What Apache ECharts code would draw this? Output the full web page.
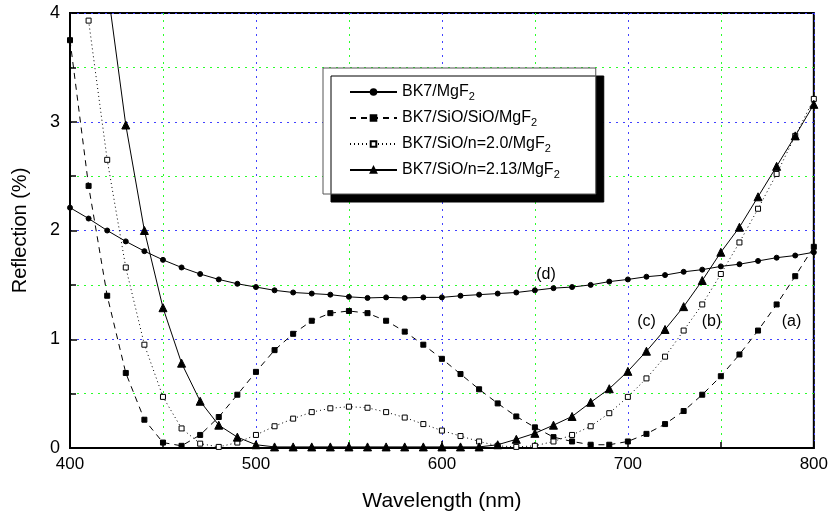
<!DOCTYPE html>
<html>
<head>
<meta charset="UTF-8">
<title>Reflection vs wavelength</title>
<script src="https://cdn.jsdelivr.net/npm/echarts@6/dist/echarts.min.js"></script>
<style>
  body { margin: 0; background: white; }
  #chart { width: 831px; height: 519px; }
</style>
</head>
<body>
<div id="chart"></div>
<script>
// wavelength, nm (every 10 nm)
var wavelengths = [400,410,420,430,440,450,460,470,480,490,500,510,520,530,540,550,560,570,580,590,
                   600,610,620,630,640,650,660,670,680,690,700,710,720,730,740,750,760,770,780,790,800];

// (d) BK7/MgF2
var bk7MgF2 = [2.21,2.11,2.00,1.90,1.81,1.73,1.66,1.60,1.55,1.51,1.48,1.45,1.43,1.42,1.41,1.39,1.38,1.385,1.38,1.385,
               1.385,1.40,1.41,1.42,1.43,1.45,1.47,1.48,1.50,1.53,1.55,1.575,1.59,1.62,1.64,1.67,1.69,1.72,1.75,1.77,1.80];
// (a) BK7/SiO/SiO/MgF2
var bk7SiOSiO = [3.75,2.41,1.40,0.69,0.26,0.05,0.02,0.12,0.285,0.49,0.70,0.90,1.05,1.17,1.24,1.26,1.24,1.17,1.07,0.95,
                 0.82,0.68,0.54,0.41,0.29,0.19,0.10,0.06,0.03,0.03,0.06,0.13,0.22,0.34,0.49,0.66,0.86,1.08,1.32,1.58,1.85];
// (b) BK7/SiO/n=2.0/MgF2
var bk7n20 = [null,3.93,2.65,1.66,0.95,0.47,0.18,0.04,0.01,0.05,0.12,0.20,0.27,0.33,0.365,0.38,0.37,0.33,0.28,0.22,
              0.16,0.11,0.06,0.02,0.01,0.02,0.06,0.12,0.20,0.32,0.47,0.64,0.84,1.08,1.32,1.60,1.89,2.20,2.52,2.87,3.21];
// (c) BK7/SiO/n=2.13/MgF2
var bk7n213 = [null,null,4.25,2.97,2.00,1.29,0.78,0.43,0.21,0.10,0.03,0.01,0.01,0.01,0.01,0.01,0.01,0.01,0.01,0.01,
               0.01,0.01,0.01,0.03,0.08,0.135,0.21,0.29,0.42,0.545,0.705,0.89,1.09,1.30,1.54,1.80,2.03,2.31,2.59,2.87,3.16];

var seriesNames = ['BK7/MgF2', 'BK7/SiO/SiO/MgF2', 'BK7/SiO/n=2.0/MgF2', 'BK7/SiO/n=2.13/MgF2'];
var curveTags = [['(d)', 656, 1.59], ['(c)', 710, 1.16], ['(b)', 745, 1.16], ['(a)', 788, 1.16]];

function pairs(vals) {
  return wavelengths.map(function (w, i) { return [w, vals[i]]; });
}

var chart = echarts.init(document.getElementById('chart'));
// dotted grid: blue on the labelled values, green halfway between
var majorGrid = { color: '#4242ff', type: [2, 5], width: 1 };
var minorGrid = { color: '#2aff2a', type: [2, 5], width: 1 };

function lineSeries(name, vals, symbol, size, dash, fill) {
  return {
    name: name,
    type: 'line',
    data: pairs(vals),
    symbol: symbol,
    symbolSize: size,
    showAllSymbol: true,
    clip: true,
    connectNulls: false,
    lineStyle: { color: '#000', width: 1, type: dash },
    itemStyle: { color: fill, borderColor: '#000', borderWidth: 1 },
    emphasis: { disabled: true },
    z: 3
  };
}

var option = {
  animation: false,
  textStyle: { fontFamily: 'Liberation Sans, Arial, sans-serif' },
  grid: { left: 70, right: 17, top: 13, bottom: 71, show: true, borderColor: '#000', borderWidth: 2 },
  legend: {
    data: seriesNames,
    orient: 'vertical',
    left: 323, top: 68,
    padding: [14, 36, 14, 26],
    itemWidth: 47, itemHeight: 7, itemGap: 6,
    backgroundColor: '#fff',
    borderColor: '#555', borderWidth: 1,
    shadowColor: '#000', shadowBlur: 0, shadowOffsetX: 8, shadowOffsetY: 8,
    formatter: function (n) { return '{t|' + n.slice(0, -1) + '}{s|2}'; },
    textStyle: {
      rich: {
        t: { fontSize: 16, color: '#000', lineHeight: 18, fontFamily: 'Liberation Sans' },
        s: { fontSize: 11, color: '#000', lineHeight: 18, padding: [9, 0, 0, 0], fontFamily: 'Liberation Sans' }
      }
    }
  },
  xAxis: {
    type: 'value', min: 400, max: 800, interval: 100,
    name: 'Wavelength (nm)', nameLocation: 'middle', nameGap: 43,
    nameTextStyle: { fontSize: 21, color: '#000', fontFamily: 'Liberation Sans Narrow, Liberation Sans' },
    axisLine: { lineStyle: { color: '#000', width: 2 } },
    axisTick: { inside: true, length: 7, lineStyle: { color: '#000', width: 1.5 } },
    minorTick: { show: true, splitNumber: 2, length: 6, lineStyle: { color: '#000', width: 1.5 } },
    axisLabel: { color: '#000', fontSize: 17, margin: 8, fontFamily: 'Liberation Sans Narrow, Liberation Sans' },
    splitLine: { show: true, lineStyle: majorGrid },
    minorSplitLine: { show: true, lineStyle: minorGrid }
  },
  yAxis: {
    type: 'value', min: 0, max: 4, interval: 1,
    name: 'Reflection (%)', nameLocation: 'middle', nameGap: 40,
    nameTextStyle: { fontSize: 20, color: '#000' },
    axisLine: { lineStyle: { color: '#000', width: 2 } },
    axisTick: { inside: true, length: 7, lineStyle: { color: '#000', width: 1.5 } },
    minorTick: { show: true, splitNumber: 2, length: 6, lineStyle: { color: '#000', width: 1.5 } },
    axisLabel: { color: '#000', fontSize: 18, margin: 10 },
    splitLine: { show: true, lineStyle: majorGrid },
    minorSplitLine: { show: true, lineStyle: minorGrid }
  },
  series: [
    lineSeries(seriesNames[0], bk7MgF2, 'circle', 5, 'solid', '#000'),
    lineSeries(seriesNames[1], bk7SiOSiO, 'rect', 5, [6, 5], '#000'),
    lineSeries(seriesNames[2], bk7n20, 'rect', 5, [1, 3], '#fff'),
    lineSeries(seriesNames[3], bk7n213, 'triangle', 8, 'solid', '#000'),
    {
      name: 'tags',
      type: 'scatter',
      data: curveTags.map(function (t) { return { value: [t[1], t[2]], name: t[0] }; }),
      symbolSize: 0,
      silent: true,
      itemStyle: { opacity: 1 },
      label: { show: true, position: 'inside', formatter: '{b}', fontSize: 16, color: '#000' },
      z: 4
    }
  ]
};

chart.setOption(option);
</script>
</body>
</html>
